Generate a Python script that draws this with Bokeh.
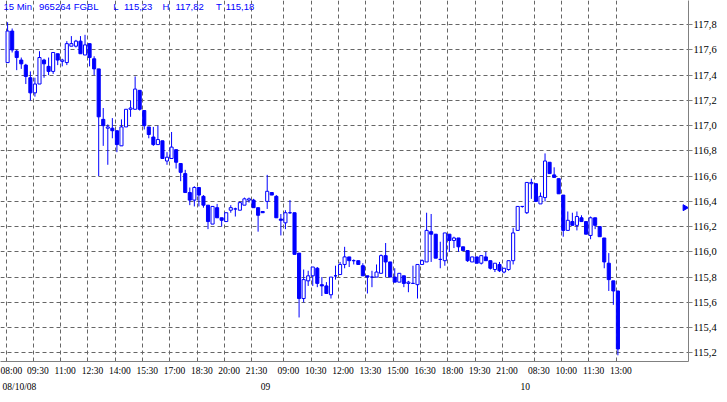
import numpy as np
from bokeh.plotting import figure
from bokeh.models import ColumnDataSource, FixedTicker, LinearAxis, Range1d, Label
from bokeh.embed import file_html
from bokeh.resources import INLINE

# ---------------- data (15-min FGBL candles, 3 sessions) ----------------
opens = [117.50, 117.75, 117.59, 117.52, 117.48, 117.38, 117.26, 117.33, 117.52, 117.47,
         117.43, 117.57, 117.51, 117.50, 117.63, 117.63, 117.67, 117.56, 117.65, 117.53,
         117.45, 117.05, 116.98, 116.98, 116.96, 116.84, 116.99, 117.13, 117.13, 117.28,
         117.12, 116.99, 116.91, 116.85, 116.88, 116.72, 116.74, 116.81, 116.70, 116.62,
         116.47, 116.41, 116.51, 116.44, 116.37, 116.22, 116.35, 116.27, 116.24, 116.33,
         116.34, 116.33, 116.37, 116.41, 116.41, 116.35, 116.32, 116.40, 116.47, 116.44,
         116.26, 116.23, 116.31, 116.31, 115.99, 115.63, 115.77, 115.81, 115.87, 115.74,
         115.73, 115.66, 115.81, 115.82, 115.90, 115.96, 115.93, 115.93, 115.89, 115.81,
         115.80, 115.80, 115.83, 115.97, 115.92, 115.80, 115.76, 115.81, 115.75, 115.75,
         115.74, 115.90, 115.92, 116.16, 116.14, 115.94, 115.93, 116.14, 116.09, 116.11,
         116.04, 116.01, 115.92, 115.96, 115.91, 115.96, 115.93, 115.86, 115.90, 115.84,
         115.86, 115.93, 116.17, 116.36, 116.31, 116.54, 116.54, 116.38, 116.43, 116.71,
         116.61, 116.58, 116.45, 116.17, 116.24, 116.21, 116.27, 116.24, 116.13, 116.27,
         116.20, 116.11, 115.91, 115.77, 115.69]
highs = [117.82, 117.77, 117.60, 117.54, 117.49, 117.43, 117.38, 117.59, 117.53, 117.54,
         117.58, 117.57, 117.53, 117.67, 117.71, 117.68, 117.71, 117.72, 117.65, 117.55,
         117.45, 117.14, 117.01, 117.06, 116.96, 117.05, 117.13, 117.20, 117.39, 117.28,
         117.12, 116.99, 116.99, 117.00, 116.88, 116.79, 116.95, 116.81, 116.70, 116.65,
         116.51, 116.52, 116.51, 116.45, 116.37, 116.36, 116.38, 116.27, 116.31, 116.37,
         116.35, 116.40, 116.43, 116.43, 116.42, 116.35, 116.32, 116.61, 116.47, 116.45,
         116.30, 116.33, 116.41, 116.31, 115.99, 115.86, 115.85, 115.88, 115.88, 115.80,
         115.76, 115.80, 115.89, 115.92, 116.04, 115.96, 115.94, 115.93, 115.91, 115.81,
         115.85, 115.90, 115.98, 116.07, 115.92, 115.87, 115.83, 115.81, 115.77, 115.89,
         115.90, 115.94, 116.31, 116.30, 116.14, 116.08, 116.15, 116.14, 116.12, 116.11,
         116.04, 116.01, 115.96, 115.96, 115.97, 116.00, 115.93, 115.91, 115.92, 115.87,
         115.93, 116.19, 116.36, 116.36, 116.55, 116.58, 116.54, 116.47, 116.78, 116.71,
         116.67, 116.58, 116.45, 116.32, 116.31, 116.32, 116.29, 116.24, 116.28, 116.27,
         116.20, 116.11, 115.99, 115.77, 115.69]
lows = [117.50, 117.58, 117.44, 117.45, 117.33, 117.20, 117.23, 117.33, 117.38, 117.40,
        117.41, 117.48, 117.47, 117.48, 117.63, 117.62, 117.57, 117.56, 117.47, 117.40,
        116.60, 116.84, 116.69, 116.90, 116.79, 116.84, 116.99, 117.07, 117.13, 117.12,
        116.97, 116.90, 116.84, 116.85, 116.74, 116.69, 116.74, 116.66, 116.56, 116.47,
        116.37, 116.36, 116.36, 116.35, 116.18, 116.22, 116.27, 116.20, 116.24, 116.31,
        116.28, 116.33, 116.37, 116.39, 116.35, 116.16, 116.31, 116.34, 116.45, 116.27,
        116.13, 116.18, 116.30, 115.98, 115.48, 115.60, 115.73, 115.73, 115.72, 115.65,
        115.67, 115.63, 115.78, 115.82, 115.87, 115.88, 115.90, 115.90, 115.81, 115.67,
        115.72, 115.80, 115.83, 115.80, 115.80, 115.76, 115.76, 115.72, 115.68, 115.75,
        115.63, 115.90, 115.92, 115.92, 115.95, 115.87, 115.89, 116.00, 116.03, 116.00,
        116.01, 115.92, 115.92, 115.91, 115.90, 115.93, 115.86, 115.84, 115.84, 115.83,
        115.85, 115.90, 116.17, 116.35, 116.30, 116.42, 116.40, 116.38, 116.40, 116.62,
        116.59, 116.46, 116.12, 116.17, 116.21, 116.17, 116.24, 116.14, 116.10, 116.18,
        116.12, 115.87, 115.69, 115.58, 115.18]
closes = [117.75, 117.60, 117.54, 117.49, 117.39, 117.26, 117.33, 117.54, 117.49, 117.43,
          117.58, 117.52, 117.52, 117.65, 117.65, 117.67, 117.57, 117.64, 117.54, 117.45,
          117.07, 117.00, 116.99, 116.96, 116.85, 116.99, 117.13, 117.14, 117.29, 117.13,
          117.00, 116.93, 116.85, 116.89, 116.74, 116.75, 116.83, 116.71, 116.63, 116.47,
          116.41, 116.51, 116.45, 116.37, 116.24, 116.36, 116.27, 116.25, 116.31, 116.35,
          116.34, 116.39, 116.42, 116.42, 116.35, 116.29, 116.31, 116.48, 116.45, 116.27,
          116.25, 116.31, 116.31, 115.98, 115.63, 115.78, 115.81, 115.88, 115.75, 115.73,
          115.67, 115.80, 115.81, 115.90, 115.96, 115.93, 115.93, 115.90, 115.81, 115.80,
          115.80, 115.84, 115.97, 115.92, 115.80, 115.76, 115.83, 115.75, 115.76, 115.75,
          115.90, 115.93, 116.17, 116.14, 115.95, 115.94, 116.15, 116.09, 116.11, 116.04,
          116.01, 115.93, 115.96, 115.91, 115.97, 115.93, 115.87, 115.91, 115.85, 115.87,
          115.93, 116.15, 116.36, 116.36, 116.55, 116.55, 116.40, 116.44, 116.72, 116.62,
          116.59, 116.46, 116.17, 116.25, 116.21, 116.28, 116.24, 116.14, 116.27, 116.21,
          116.12, 115.92, 115.78, 115.69, 115.23]

session_dates = ["08/10/08", "09", "10"]
bars_per_session = 57          # 08:00 ... 22:00 in 15-minute bars
session_open = "08:00"
time_tick_labels = ["08:00", "09:30", "11:00", "12:30", "14:00", "15:30", "17:00", "18:30",
                    "20:00", "21:30",
                    "09:00", "10:30", "12:00", "13:30", "15:00", "16:30", "18:00", "19:30",
                    "21:00",
                    "08:30", "10:00", "11:30", "13:00"]
time_tick_session = [0] * 10 + [1] * 9 + [2] * 4
price_ticks = [round(115.2 + 0.2 * i, 1) for i in range(14)]
marker_price = 116.35
header_items = ["15 Min", "965264", "FGBL", "L", "115,23", "H", "117,82", "T", "115,18"]

# ---------------- derived ----------------
def minutes(s):
    h, m = s.split(":")
    return int(h) * 60 + int(m)

n = len(opens)
idx = np.arange(n)
o = np.array(opens); c = np.array(closes); h = np.array(highs); l = np.array(lows)
up = c >= o

BLUE = "#0000FF"
GRID_SHIFT = -0.35     # grid line sits a little left of the bar
LABEL_SHIFT = 0.65     # time label centre sits a little right of the bar
PX_PER_BAR = 4.608
X0_PX = 7.2

tick_idx = [s * bars_per_session + (minutes(t) - minutes(session_open)) // 15
            for t, s in zip(time_tick_labels, time_tick_session)]
grid_pos = [t + GRID_SHIFT for t in tick_idx]
label_pos = [t + LABEL_SHIFT for t in tick_idx]
date_pos = [s * bars_per_session + GRID_SHIFT for s in range(len(session_dates))]
date_pos[0] = 2.6      # first date is pushed in from the left edge

src = ColumnDataSource(dict(
    x=idx, top=np.maximum(o, c), bottom=np.minimum(o, c), high=h, low=l,
    fill=np.where(up, "white", BLUE)))

p = figure(width=719, height=394,
           x_range=Range1d(-1.56, 149.5), y_range=Range1d(115.131, 117.992),
           output_backend="svg", toolbar_location=None,
           x_axis_location="below", y_axis_location="right",
           min_border_left=0, min_border_top=0, min_border_right=31, min_border_bottom=0)
p.outline_line_color = None
p.background_fill_color = "white"
p.border_fill_color = "white"

p.segment(x0="x", y0="low", x1="x", y1="high", source=src, line_color=BLUE, line_width=1)
p.vbar(x="x", width=0.68, top="top", bottom="bottom", source=src,
       fill_color="fill", line_color=BLUE, line_width=1)

# right-edge price marker
p.scatter(x=[148.7], y=[marker_price], marker="triangle", angle=-np.pi / 2,
          size=6, fill_color=BLUE, line_color=BLUE)

GRID_COLOR = "#666666"
p.xgrid.ticker = FixedTicker(ticks=grid_pos)
p.ygrid.ticker = FixedTicker(ticks=price_ticks)
for g in (p.xgrid, p.ygrid):
    g.grid_line_color = GRID_COLOR
    g.grid_line_dash = "4 3"
    g.grid_line_width = 1

xa = p.xaxis[0]
xa.ticker = FixedTicker(ticks=label_pos)
xa.major_label_overrides = {pos: lab for pos, lab in zip(label_pos, time_tick_labels)}
xa.axis_line_color = "#808080"
xa.major_tick_line_color = None
xa.minor_tick_line_color = None
xa.major_tick_out = 0
xa.major_tick_in = 0
xa.major_label_standoff = 4
xa.major_label_text_font = "Liberation Serif"
xa.major_label_text_font_size = "9.5px"
xa.major_label_text_color = "black"

da = LinearAxis(ticker=FixedTicker(ticks=date_pos),
                major_label_overrides={pos: lab for pos, lab in zip(date_pos, session_dates)})
da.axis_line_color = None
da.major_tick_line_color = None
da.minor_tick_line_color = None
da.major_tick_out = 0
da.major_tick_in = 0
da.major_label_standoff = 3
da.major_label_text_font = "Liberation Serif"
da.major_label_text_font_size = "9.5px"
da.major_label_text_color = "black"
p.add_layout(da, "below")

ya = p.yaxis[0]
ya.ticker = FixedTicker(ticks=price_ticks)
ya.major_label_overrides = {v: f"{v:.1f}".replace(".", ",") for v in price_ticks}
ya.axis_line_color = "#808080"
ya.major_tick_line_color = "#808080"
ya.minor_tick_line_color = None
ya.major_tick_out = 4
ya.major_tick_in = 0
ya.major_label_standoff = 1
ya.major_label_text_font = "Liberation Serif"
ya.major_label_text_font_size = "10.5px"
ya.major_label_text_color = "black"

# header line (blue), placed at its pixel positions
header_px = [3, 39, 74, 114, 125, 164, 177, 218, 228]
header_y = 117.8 + (25 - 6.5) / 130
for txt, px in zip(header_items, header_px):
    p.add_layout(Label(x=(px - X0_PX) / PX_PER_BAR, y=header_y, text=txt,
                       text_color=BLUE, text_font="Liberation Sans",
                       text_font_size="9.5px", text_baseline="middle", text_align="left"))

open("out.html", "w").write(file_html(p, INLINE))
